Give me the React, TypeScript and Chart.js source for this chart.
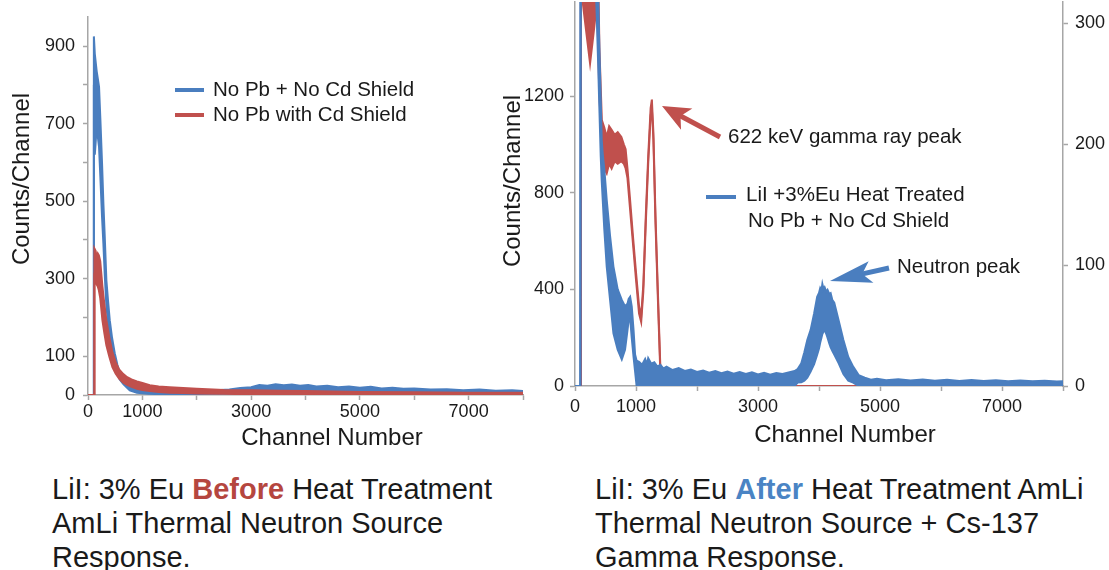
import React, { useEffect, useRef } from "react";
import { Chart, registerables } from "chart.js";
Chart.register(...registerables);

// ---------------- DATA ----------------
// Left chart (LiI:3%Eu before heat treatment), counts/channel, noise band = hi/lo envelope
const leftBlueCh = [0, 100, 108, 125, 160, 203, 228, 258, 283, 308, 338, 370, 400, 440, 492, 540, 584, 650, 768, 900, 1100, 1400, 1800, 2200, 2600, 2800, 3000, 3150, 3300, 3450, 3600, 3750, 3900, 4050, 4200, 4400, 4600, 4800, 5000, 5200, 5400, 5600, 5800, 6000, 6300, 6600, 6900, 7200, 7500, 7800, 8000];
const leftBlueHi = [0, 0, 925, 880, 835, 795, 709, 598, 494, 408, 296, 240, 193, 150, 108, 78, 57, 40, 21, 14, 10, 8, 9, 11, 14, 18, 20, 26, 24, 28, 25, 27, 24, 26, 22, 24, 20, 22, 19, 21, 17, 19, 16, 17, 14, 15, 12, 14, 11, 12, 10];
const leftBlueLo = [0, 0, 800, 620, 690, 640, 560, 460, 390, 310, 230, 185, 150, 115, 80, 58, 40, 28, 12, 6, 3, 2, 2, 3, 4, 5, 6, 8, 9, 9, 9, 9, 9, 9, 8, 8, 7, 7, 7, 6, 6, 6, 5, 5, 4, 4, 4, 4, 4, 3, 3];

const leftRedCh = [0, 115, 118, 140, 160, 180, 200, 225, 250, 265, 300, 338, 390, 449, 510, 572, 650, 720, 800, 900, 1000, 1136, 1300, 1500, 1750, 2000, 2500, 3000, 3500, 4000, 5000, 6000, 7000, 8000];
const leftRedHi = [0, 0, 378, 372, 355, 365, 360, 345, 305, 280, 236, 193, 150, 110, 84, 66, 54, 46, 40, 35, 31, 25, 22, 20, 18, 16, 13, 12, 11, 10, 8, 7, 6, 6];
const leftRedLo = [0, 0, 300, 290, 285, 280, 270, 250, 215, 193, 160, 128, 100, 72, 55, 42, 32, 26, 21, 16, 13, 10, 8, 6, 5, 4, 3, 2, 2, 2, 1, 1, 1, 1];

// Right chart (after heat treatment): blue on left axis, red (Cs-137 gamma) on right axis
const rightBlueCh = [
  0, 86, 88, 100, 300, 330, 360, 380, 394, 422,
  438, 455, 480, 520, 575, 630, 700, 767, 820, 860,
  880, 904, 930, 960, 985, 1010, 1050, 1100, 1150, 1180,
  1200, 1250, 1300, 1350, 1400, 1450, 1500, 1600, 1700, 1800,
  1900, 2000, 2100, 2200, 2300, 2400, 2500, 2600, 2700, 2800,
  2900, 3000, 3100, 3200, 3300, 3400, 3500, 3600, 3650, 3710,
  3760, 3808, 3863, 3920, 3970, 4000, 4020, 4040, 4055, 4075,
  4093, 4120, 4140, 4170, 4191, 4220, 4250, 4323, 4400, 4480,
  4560, 4650, 4750, 4850, 4950, 5100, 5300, 5500, 5700, 5900,
  6100, 6300, 6500, 6700, 6900, 7100, 7300, 7500, 7700, 7900,
  8000,
];
const rightBlueHi = [
  0, 0, 2500, 2500, 2500, 2200, 1900, 1620, 1459, 1183,
  1018, 960, 900, 769, 620, 494, 400, 356, 330, 340,
  360, 369, 330, 230, 130, 105, 100, 88, 112, 90,
  115, 92, 98, 80, 88, 72, 80, 66, 74, 62,
  68, 58, 64, 55, 62, 53, 60, 51, 58, 50,
  57, 48, 55, 47, 54, 50, 56, 62, 70, 94,
  140, 190, 232, 300, 369, 385, 405, 395, 422, 400,
  408, 390, 398, 380, 384, 355, 345, 270, 190, 120,
  80, 45, 34, 26, 30, 24, 28, 23, 27, 22,
  26, 21, 25, 21, 24, 20, 23, 20, 22, 19,
  20,
];
const rightBlueLo = [
  0, 0, 0, 2500, 2500, 1750, 1500, 1330, 1200, 950,
  850, 769, 650, 494, 356, 218, 150, 110, 150, 230,
  273, 280, 200, 120, 60, 0, 0, 0, 0, 0,
  0, 0, 0, 0, 0, 0, 0, 0, 0, 0,
  0, 0, 0, 0, 0, 0, 0, 0, 0, 0,
  0, 0, 0, 0, 0, 0, 0, 0, 14, 15,
  22, 35, 60, 90, 130, 155, 180, 200, 215, 225,
  232, 215, 200, 175, 160, 145, 130, 94, 50, 22,
  14, 0, 0, 0, 0, 0, 0, 0, 0, 0,
  0, 0, 0, 0, 0, 0, 0, 0, 0, 0,
  0,
];

const rightRedCh = [0, 93, 97, 180, 247, 300, 362, 400, 440, 480, 520, 560, 600, 650, 700, 760, 800, 830, 860, 900, 950, 1000, 1050, 1085, 1120, 1160, 1200, 1240, 1260, 1285, 1320, 1360, 1397, 1420, 8000];
const rightRedHi = [0, 0, 400, 400, 400, 400, 400, 280, 220, 214, 206, 215, 212, 208, 210, 206, 200, 196, 180, 156, 124, 94, 66, 58, 84, 140, 190, 230, 237, 210, 140, 76, 19, 0, 0];
const rightRedLo = [0, 0, 330, 295, 267, 290, 318, 240, 200, 180, 176, 184, 180, 186, 184, 186, 184, 180, 172, 148, 118, 88, 60, 53, 78, 134, 184, 224, 230, 204, 134, 70, 14, 0, 0];

const xTickValues = [0, 1000, 2000, 3000, 4000, 5000, 6000, 7000, 8000];
const xTickLabels = [0, 1000, 3000, 5000, 7000];
const leftYTickValues = [0, 100, 200, 300, 400, 500, 600, 700, 800, 900];
const leftYTickLabels = [0, 100, 300, 500, 700, 900];
const rightYTickValues = [0, 400, 800, 1200];
const rightY2TickValues = [0, 100, 200, 300];

const leftLegend = ["No Pb + No Cd Shield", "No Pb with Cd Shield"];
const rightLegend = ["LiI +3%Eu Heat Treated", "No Pb + No Cd Shield"];

// ---------------- STYLE ----------------
const BLUE = "#4a7ebf";
const RED = "#c0504d";
const GRAY = "#a6a6a6";
const TEXT = "#1a1a1a";
const FONT = '"Liberation Sans", Arial, Helvetica, sans-serif';

const pts = (ch: number[], v: number[]) => ch.map((c, i) => ({ x: c, y: v[i] }));

function band(label: string, ch: number[], hi: number[], lo: number[], color: string, yAxisID: string, width: number) {
  return [
    { label, data: pts(ch, hi), borderColor: color, backgroundColor: color, borderWidth: width, pointRadius: 0, fill: "+1", yAxisID, tension: 0 },
    { label: label + " (low)", data: pts(ch, lo), borderColor: color, backgroundColor: color, borderWidth: width, pointRadius: 0, fill: false, yAxisID, tension: 0 },
  ];
}

function axisCommon(values: number[], labels: number[], pad: number) {
  return {
    type: "linear",
    afterBuildTicks: (s: any) => {
      s.ticks = values.map((v) => ({ value: v }));
    },
    ticks: {
      autoSkip: false,
      maxRotation: 0,
      padding: pad,
      color: TEXT,
      font: { family: FONT, size: 18 },
      callback: (v: number) => (labels.includes(v) ? String(v) : ""),
    },
    grid: { drawOnChartArea: false, drawTicks: true, tickLength: 5, color: GRAY, tickColor: GRAY, tickWidth: 1.5 },
    border: { display: true, color: GRAY, width: 1.5 },
  };
}

function xScale(height: number, pad: number) {
  return {
    ...axisCommon(xTickValues, xTickLabels, pad),
    min: 0,
    max: 8000,
    afterFit: (s: any) => {
      s.height = height;
      s.paddingLeft = 0;
      s.paddingRight = 0;
    },
  };
}

function yScale(position: string, max: number, values: number[], labels: number[], width: number, pad: number) {
  return {
    ...axisCommon(values, labels, pad),
    position,
    min: 0,
    max,
    afterFit: (s: any) => {
      s.width = width;
      s.paddingTop = 0;
      s.paddingBottom = 0;
    },
  };
}

function arrow(ctx: CanvasRenderingContext2D, tx: number, ty: number, px: number, py: number, headLen: number, half: number, notch: number, shaft: number, color: string) {
  const dx = px - tx, dy = py - ty;
  const L = Math.hypot(dx, dy);
  const ux = dx / L, uy = dy / L;
  const nx = -uy, ny = ux;
  const bx = px - ux * headLen, by = py - uy * headLen;
  const cx = px - ux * notch, cy = py - uy * notch;
  ctx.strokeStyle = color;
  ctx.fillStyle = color;
  ctx.lineWidth = shaft;
  ctx.lineCap = "butt";
  ctx.beginPath();
  ctx.moveTo(tx, ty);
  ctx.lineTo(cx + ux * 2, cy + uy * 2);
  ctx.stroke();
  ctx.beginPath();
  ctx.moveTo(px, py);
  ctx.lineTo(bx + nx * half, by + ny * half);
  ctx.lineTo(cx, cy);
  ctx.lineTo(bx - nx * half, by - ny * half);
  ctx.closePath();
  ctx.fill();
}

function text(ctx: CanvasRenderingContext2D, s: string, x: number, y: number, size: number, align: CanvasTextAlign = "left", rot = 0) {
  ctx.save();
  ctx.translate(x, y);
  if (rot) ctx.rotate(rot);
  ctx.font = `${size}px ${FONT}`;
  ctx.fillStyle = TEXT;
  ctx.textAlign = align;
  ctx.textBaseline = "middle";
  ctx.fillText(s, 0, 0);
  ctx.restore();
}

function legendLine(ctx: CanvasRenderingContext2D, x1: number, x2: number, y: number, color: string) {
  ctx.strokeStyle = color;
  ctx.lineWidth = 4;
  ctx.lineCap = "butt";
  ctx.beginPath();
  ctx.moveTo(x1, y);
  ctx.lineTo(x2, y);
  ctx.stroke();
}

const leftOverlay = {
  id: "leftOverlay",
  afterDraw(chart: any) {
    const ctx = chart.ctx as CanvasRenderingContext2D;
    ctx.save();
    text(ctx, "Counts/Channel", 22, 179, 24, "center", -Math.PI / 2);
    text(ctx, "Channel Number", 332, 438, 24, "center");
    legendLine(ctx, 175, 204, 90, BLUE);
    legendLine(ctx, 175, 204, 115, RED);
    text(ctx, leftLegend[0], 213, 90, 20.5);
    text(ctx, leftLegend[1], 213, 115, 20.5);
    ctx.restore();
  },
};

const OX = 480; // right canvas left offset
const rightOverlay = {
  id: "rightOverlay",
  afterDraw(chart: any) {
    const ctx = chart.ctx as CanvasRenderingContext2D;
    ctx.save();
    text(ctx, "Counts/Channel", 513 - OX, 181, 24, "center", -Math.PI / 2);
    text(ctx, "Channel Number", 845 - OX, 435, 24, "center");
    legendLine(ctx, 706 - OX, 736 - OX, 197, BLUE);
    text(ctx, rightLegend[0], 746 - OX, 195, 20.5);
    text(ctx, rightLegend[1], 748 - OX, 221, 20.5);
    text(ctx, "622 keV gamma ray peak", 728 - OX, 137, 20.5);
    text(ctx, "Neutron peak", 897 - OX, 267, 20.5);
    arrow(ctx, 720 - OX, 137, 662 - OX, 106, 28, 12, 21, 5, RED);
    arrow(ctx, 889 - OX, 268, 830 - OX, 281, 42, 11, 33, 5, BLUE);
    ctx.restore();
  },
};

function useChart(ref: React.RefObject<HTMLCanvasElement>, make: () => any) {
  useEffect(() => {
    if (!ref.current) return;
    const chart = new Chart(ref.current, make());
    return () => chart.destroy();
  }, []);
}

export default function App() {
  const leftRef = useRef<HTMLCanvasElement>(null);
  const rightRef = useRef<HTMLCanvasElement>(null);

  useChart(leftRef, () => ({
    type: "line",
    data: {
      datasets: [
        ...band(leftLegend[1], leftRedCh, leftRedHi, leftRedLo, RED, "y", 2),
        ...band(leftLegend[0], leftBlueCh, leftBlueHi, leftBlueLo, BLUE, "y", 2),
      ],
    },
    options: {
      responsive: false,
      animation: false,
      events: [],
      layout: { padding: { left: 0, right: 27, top: 17, bottom: 0 } },
      plugins: { legend: { display: false }, tooltip: { enabled: false } },
      scales: {
        x: xScale(65, 1),
        y: yScale("left", 975, leftYTickValues, leftYTickLabels, 88, 8),
      },
    },
    plugins: [leftOverlay],
  }));

  useChart(rightRef, () => ({
    type: "line",
    data: {
      datasets: [
        ...band(rightLegend[0], rightBlueCh, rightBlueHi, rightBlueLo, BLUE, "y", 2),
        ...band("Cs-137 gamma", rightRedCh, rightRedHi, rightRedLo, RED, "y2", 2),
      ],
    },
    options: {
      responsive: false,
      animation: false,
      events: [],
      layout: { padding: { left: 0, right: 0, top: 2, bottom: 0 } },
      plugins: { legend: { display: false }, tooltip: { enabled: false } },
      scales: {
        x: xScale(74, 5),
        y: yScale("left", 1589, rightYTickValues, rightYTickValues, 95, 6),
        y2: yScale("right", 317.8, rightY2TickValues, rightY2TickValues, 46, 7),
      },
    },
    plugins: [rightOverlay],
  }));

  const cap: React.CSSProperties = {
    position: "absolute",
    top: 472,
    font: `29px ${FONT}`,
    lineHeight: "34px",
    color: TEXT,
    whiteSpace: "nowrap",
  };

  return (
    <div style={{ position: "absolute", left: 0, top: 0, width: 1109, height: 570, background: "#fff", overflow: "hidden" }}>
      <canvas ref={leftRef} width={550} height={460} style={{ position: "absolute", left: 0, top: 0, width: 550, height: 460 }} />
      <canvas ref={rightRef} width={629} height={460} style={{ position: "absolute", left: OX, top: 0, width: 629, height: 460 }} />
      <div style={{ ...cap, left: 52 }}>
        <div>
          LiI: 3% Eu <b style={{ color: "#b5463f" }}>Before</b> Heat Treatment
        </div>
        <div>AmLi Thermal Neutron Source</div>
        <div>Response.</div>
      </div>
      <div style={{ ...cap, left: 595 }}>
        <div>
          LiI: 3% Eu <b style={{ color: "#4a84c4" }}>After</b> Heat Treatment AmLi
        </div>
        <div>Thermal Neutron Source + Cs-137</div>
        <div>Gamma Response.</div>
      </div>
    </div>
  );
}
